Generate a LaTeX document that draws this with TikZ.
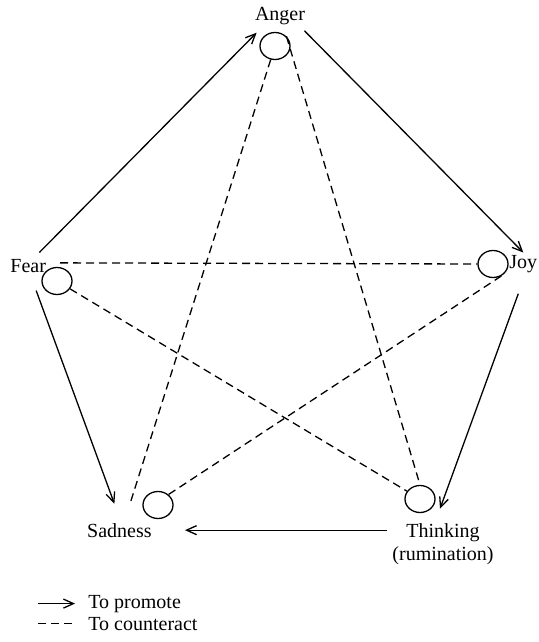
\documentclass[tikz,border=0pt]{standalone}
\usepackage{fontspec}
\setmainfont{Liberation Serif}
\usetikzlibrary{arrows.meta,calc,shapes.geometric}
\tikzset{
  every picture/.style={font=\fontsize{10}{12}\selectfont},
  lbl/.style={inner sep=1pt},
  spot/.style={draw,ellipse,line width=0.65pt,minimum width=15pt,minimum height=13.5pt,inner sep=0pt},
  promote/.style={line width=0.65pt,-{Straight Barb[length=5pt,width=4.5pt]}},
  counteract/.style={line width=0.65pt,dash pattern=on 4pt off 2.5pt},
}
\begin{document}
\begin{tikzpicture}[x=0.5pt,y=-0.5pt]
  \useasboundingbox (0,0) rectangle (538,642);
  % emotions
  \node[lbl,anchor=base] (anger) at (280,21) {Anger};
  \node[lbl,anchor=base west] (fear) at (8,272) {Fear};
  \node[lbl,anchor=base west] (joy) at (507,268) {Joy};
  \node[lbl,anchor=base east] (sad) at (154,537) {Sadness};
  \node[lbl,anchor=base] (think) at (443,537) {Thinking};
  \node[lbl,anchor=base] (rumin) at (443,560) {(rumination)};
  \node[spot] (angerc) at (275,46) {};
  \node[spot] (fearc) at (57,281) {};
  \node[spot] (joyc) at (493,264) {};
  \node[spot] (sadc) at (158,505) {};
  \node[spot] (thinkc) at (420,499) {};
  % promoting links
  \draw[promote] ($(fear.north east)+(-9,-4)$) -- ($(anger.south west)+(4,5)$);
  \draw[promote] ($(anger.south east)+(-3,3)$) -- (joy.north);
  \draw[promote] ($(joy.south)+(-5,19)$) -- ($(think.north)+(-3,-12)$);
  \draw[promote] ($(think.west |- sad.east)+(-17,0)$) -- ($(sad.east)+(31,0)$);
  \draw[promote] ($(fear.south)+(8,16)$) -- ($(sad.north)+(-5,-17)$);
  % counteracting links
  \draw[counteract] ($(fearc.north)+(3,-4)$) -- (joyc.west);
  \draw[counteract] (fearc) -- (thinkc);
  \draw[counteract] (angerc) -- ($(sad.north)+(10,-15)$);
  \draw[counteract] (angerc.40) -- (thinkc.north);
  \draw[counteract] (joyc.-55) -- (sadc.45);
  % legend
  \node[lbl,anchor=base west] (keyp) at (86,608) {To promote};
  \node[lbl,anchor=base west] (keyc) at (86,630) {To counteract};
  \draw[promote] ($(keyp.west)+(-48,0)$) -- ($(keyp.west)+(-11,0)$);
  \draw[counteract] ($(keyc.west)+(-48,0)$) -- ($(keyc.west)+(-11,0)$);
\end{tikzpicture}
\end{document}
